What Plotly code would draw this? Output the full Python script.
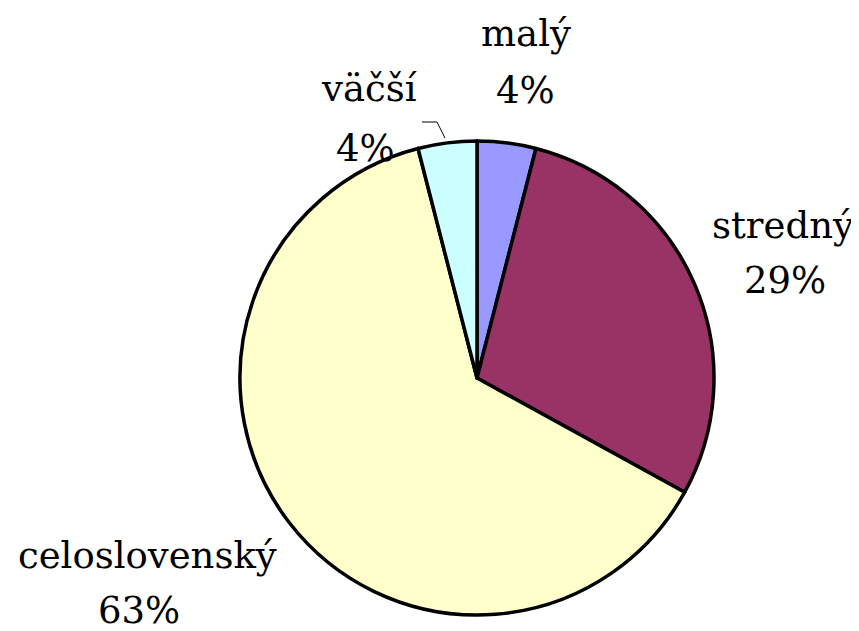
import plotly.graph_objects as go

labels = ["malý", "stredný", "celoslovenský", "väčší"]
values = [4, 29, 63, 4]
pct_text = ["4%", "29%", "63%", "4%"]
colors = ["#9999FF", "#993366", "#FFFFCC", "#CCFFFF"]

W, H = 859, 631
O = 8  # page body margin offset


def px(x):
    return (x - O) / W


def py(y):
    return 1 - (y - O) / H


fig = go.Figure(go.Pie(
    labels=labels, values=values, sort=False, direction="clockwise", rotation=0,
    marker=dict(colors=colors, line=dict(color="black", width=3.5)),
    textinfo="none", hoverinfo="label+percent", showlegend=False,
    domain=dict(x=[px(240), px(714)], y=[py(615), py(141)]),
))

# label positions in pixels (center x, baseline y) for name and percent lines
pos = {
    "malý": ((526, 45), (525, 102)),
    "stredný": ((783, 237), (785, 292)),
    "celoslovenský": ((147, 567), (139, 622)),
    "väčší": ((369, 100), (365, 160)),
}
fs = 37
font = dict(family="DejaVu Serif", size=fs, color="black")
for lab, pt in zip(labels, pct_text):
    (nx, ny), (qx, qy) = pos[lab]
    for txt, x, y in ((lab, nx, ny), (pt, qx, qy)):
        fig.add_annotation(x=px(x), y=py(y - 0.3 * fs), xref="paper", yref="paper",
                           text=txt, showarrow=False, font=font,
                           xanchor="center", yanchor="middle")

# leader line for väčší
fig.add_shape(type="path", xref="paper", yref="paper",
              path=f"M {px(422)} {py(122)} L {px(437)} {py(122)} L {px(445)} {py(138)}",
              line=dict(color="black", width=1))

fig.update_layout(width=W, height=H, margin=dict(l=0, r=0, t=0, b=0),
                  paper_bgcolor="white", plot_bgcolor="white")
fig.write_html("out.html")
